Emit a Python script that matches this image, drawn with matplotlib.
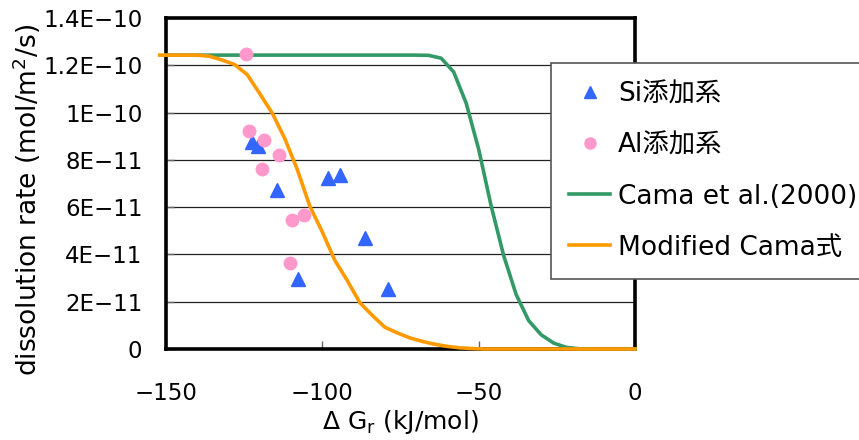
import numpy as np
import matplotlib
matplotlib.use('Agg')
import matplotlib.pyplot as plt
from matplotlib.lines import Line2D

plt.rcParams['font.family'] = ['DejaVu Sans', 'Noto Sans CJK JP']
plt.rcParams['axes.unicode_minus'] = True

E11 = 1e-11

# Si-doped runs
si_dg = [-122.5, -120.6, -114.5, -98.1, -94.3, -86.4, -107.8, -78.9]
si_rate = [8.77, 8.60, 6.74, 7.22, 7.37, 4.71, 2.94, 2.54]

# Al-doped runs
al_dg = [-124.4, -123.4, -118.7, -114.0, -119.3, -109.6, -105.8, -110.3]
al_rate = [12.48, 9.23, 8.84, 8.21, 7.62, 5.45, 5.66, 3.63]

# Cama et al. (2000) rate law
cama_dg = [-150, -70, -66, -62, -58, -54, -50, -46, -42, -38, -34, -30,
           -26, -22, -18, -14, -10, -5, 0]
cama_rate = [12.43, 12.43, 12.42, 12.30, 11.72, 10.40, 8.45, 6.05, 3.95,
             2.30, 1.20, 0.60, 0.25, 0.07, 0.01, 0.0, 0.0, 0.0, 0.0]

# modified Cama rate law
mod_dg = [-152, -140, -136, -132, -128, -124, -120, -116, -112, -108, -104,
          -100, -96, -92, -88, -84, -80, -76, -72, -68, -64, -60, -56, -52,
          -48, -40, -20, 0]
mod_rate = [12.43, 12.43, 12.38, 12.22, 12.03, 11.60, 10.80, 9.97, 8.90,
            7.59, 6.04, 4.95, 3.75, 2.89, 1.96, 1.42, 0.92, 0.68, 0.47, 0.32,
            0.20, 0.11, 0.05, 0.02, 0.0, 0.0, 0.0, 0.0]

y_ticks = [0, 2, 4, 6, 8, 10, 12, 14]
y_tick_labels = ['0', '2E\u221211', '4E\u221211', '6E\u221211', '8E\u221211',
                 '1E\u221210', '1.2E\u221210', '1.4E\u221210']
x_ticks = [-150, -100, -50, 0]

fig = plt.figure(figsize=(8.59, 4.40), dpi=100)
ax = fig.add_axes([166 / 859, 1 - 349 / 440, 469 / 859, 331 / 440])

for y in y_ticks[1:-1]:
    ax.axhline(y * E11, color='#222222', linewidth=0.9, zorder=1)

ax.plot(cama_dg, np.array(cama_rate) * E11, color='#339966', linewidth=2.6,
        zorder=3, clip_on=False)
ax.plot(mod_dg, np.array(mod_rate) * E11, color='#FF9900', linewidth=2.6,
        zorder=4, clip_on=False)
ax.plot(si_dg, np.array(si_rate) * E11, linestyle='none', marker='^',
        markersize=10, color='#3366FF', zorder=5)
ax.plot(al_dg, np.array(al_rate) * E11, linestyle='none', marker='o',
        markersize=9, color='#FF99CC', zorder=5)

ax.set_xlim(-150, 0)
ax.set_ylim(0, 14 * E11)
ax.set_xticks(x_ticks)
ax.set_xticklabels(['\u2212150', '\u2212100', '\u221250', '0'])
ax.set_yticks([y * E11 for y in y_ticks])
ax.set_yticklabels(y_tick_labels)
ax.tick_params(axis='both', direction='in', labelsize=16.5, color='#666666',
               length=6, width=1)
ax.tick_params(axis='x', pad=24)
ax.tick_params(axis='y', pad=17)

for side in ['left', 'right', 'top', 'bottom']:
    ax.spines[side].set_linewidth(2.6)
    ax.spines[side].set_color('black')

ax.set_xlabel('\u0394 G$_\\mathregular{r}$ (kJ/mol)', fontsize=18, labelpad=2)
ax.set_ylabel('dissolution rate (mol/m$^\\mathregular{2}$/s)', fontsize=19)
ax.yaxis.set_label_coords(-0.262, 0.45)

handles = [
    Line2D([], [], linestyle='none', marker='^', markersize=8, color='#3366FF'),
    Line2D([], [], linestyle='none', marker='o', markersize=8, color='#FF99CC'),
    Line2D([], [], color='#339966', linewidth=2.6),
    Line2D([], [], color='#FF9900', linewidth=2.6),
]
labels = ['Si添加系', 'Al添加系', 'Cama et al.(2000)', 'Modified Cama式']
leg = fig.legend(handles, labels, loc='upper left',
                 bbox_to_anchor=(551 / 859, 1 - 63 / 440), fontsize=19,
                 frameon=True, fancybox=False, framealpha=1,
                 edgecolor='#555555', borderpad=0.7, labelspacing=0.95,
                 handlelength=1.55, handletextpad=0.3, borderaxespad=0)
leg.get_frame().set_linewidth(1.2)
leg.set_zorder(10)

fig.savefig('out.png', dpi=100)
